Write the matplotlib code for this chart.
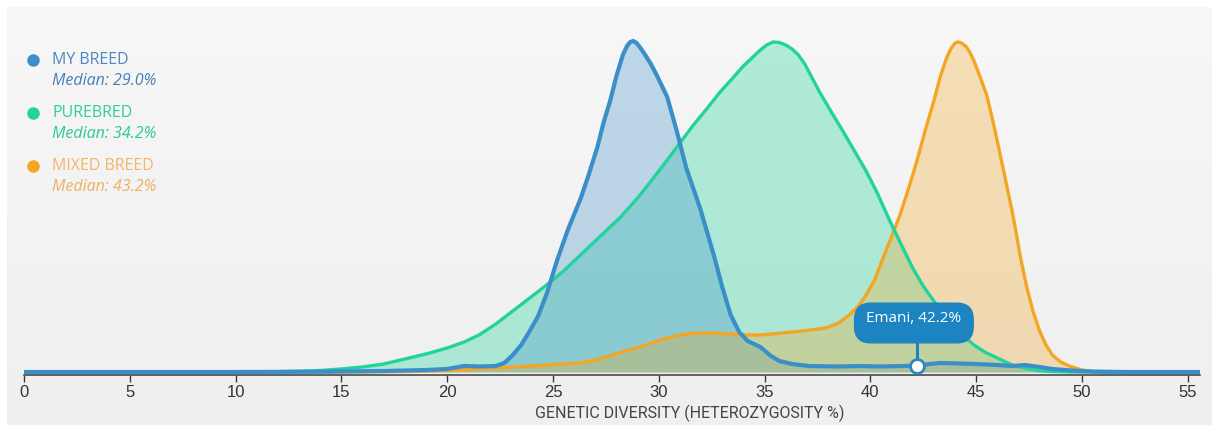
import numpy as np
import matplotlib
matplotlib.use("Agg")
import matplotlib.pyplot as plt
from matplotlib import transforms
from matplotlib.patches import FancyBboxPatch
from matplotlib.lines import Line2D
from matplotlib.colors import LinearSegmentedColormap

# ---------------- data (relative density, arbitrary units) ----------------
my_breed_x = [0, 5, 10, 14, 17, 19, 20, 20.8, 21.5, 22.3, 22.7, 23.1, 23.5, 23.9, 24.3, 24.7,
              25.2, 25.7, 26.3, 26.7, 27.1, 27.4, 27.7, 28.0, 28.3, 28.5, 28.65, 28.8, 28.95,
              29.1, 29.3, 29.6, 29.9, 30.4, 30.85, 31.3, 31.95, 32.6, 33.0, 33.4, 33.8, 34.2,
              34.8, 35.3, 35.7, 36.3, 37.1, 38.5, 39.5, 40.5, 41.5, 42.2, 42.8, 43.3, 44.2,
              45.0, 46.0, 46.7, 47.3, 48.0, 48.6, 49.5, 50.5, 52, 55.6]
my_breed_y = [0, 0, 0, 0.3, 1, 2, 3, 6, 5.5, 6, 9, 17, 27, 41, 56, 78,
              112, 142, 173, 198, 225, 250, 271, 296, 317, 326, 330, 331, 329,
              325, 319, 309, 297, 275, 241, 204, 164, 117, 85, 57, 40, 31,
              25, 16, 11, 8, 6, 5.5, 6, 5.5, 6, 6.5, 8, 9, 8.5,
              8, 7, 6, 7, 5, 3, 1.5, 0.5, 0, 0]

purebred_x = [0, 10, 12, 13, 14, 15, 16, 17, 18, 19, 20, 20.8, 21.5, 22.3, 23.1, 23.9, 24.7,
              25.5, 26.3, 27.2, 28.2, 29.0, 29.75, 30.4, 31.0, 31.6, 32.3, 32.9, 33.5, 34.0,
              34.5, 34.8, 35.1, 35.4, 35.7, 36.0, 36.3, 36.6, 36.9, 37.2, 37.6, 38.1, 38.7,
              39.25, 39.8, 40.35, 40.9, 41.4, 42.0, 42.5, 43.0, 43.5, 43.9, 44.4, 44.9, 45.4,
              45.8, 46.3, 46.7, 47.3, 47.9, 48.5, 49.5, 55.6]
purebred_y = [0, 0, 0.3, 0.8, 1.5, 3, 5, 8, 13, 18, 24, 30, 37, 48, 61, 74, 87,
              101, 117, 135, 155, 174, 194, 212, 229, 246, 264, 280, 294, 306,
              316, 322, 327, 330, 329.5, 327, 323, 317, 308, 296, 280, 262, 241,
              221, 201, 178, 152, 130, 104, 86, 71, 57, 47, 36, 27, 20,
              16, 11, 7, 4, 1.5, 0.5, 0, 0]

mixed_x = [0, 15, 18, 20, 21, 22.3, 24, 25.5, 26.3, 27, 27.8, 28.6, 29.4, 30.2, 31.0, 31.8,
           32.6, 33.4, 34.15, 34.8, 35.8, 36.8, 37.9, 38.5, 39.0, 39.4, 39.8, 40.2, 40.6,
           41.0, 41.4, 41.8, 42.2, 42.6, 43.0, 43.3, 43.6, 43.8, 44.0, 44.15, 44.3, 44.5,
           44.7, 44.9, 45.1, 45.5, 45.8, 46.1, 46.4, 46.7, 46.9, 47.1, 47.4, 47.7, 48.0,
           48.3, 48.6, 49.0, 49.4, 50.0, 50.5, 51, 55.6]
mixed_y = [0, 0, 0.5, 1.5, 2.5, 4, 6, 8, 9, 12, 17, 22, 27, 33, 37, 39,
           39, 38, 37, 37, 39, 41, 44, 49, 57, 65, 77, 92, 114,
           135, 157, 183, 211, 242, 271, 295, 314, 323, 329, 330, 329, 326,
           320, 311, 300, 277, 250, 221, 191, 161, 138, 114, 84, 60, 41,
           27, 17, 10, 6, 2, 0.5, 0, 0]

series_labels = ["MY BREED", "PUREBRED", "MIXED BREED"]
series_medians = [29.0, 34.2, 43.2]
x_ticks = [0, 5, 10, 15, 20, 25, 30, 35, 40, 45, 50, 55]
x_label = "GENETIC DIVERSITY (HETEROZYGOSITY %)"
dog_name = "Emani"
dog_value = 42.2
dog_density = 6.5

# ---------------- style ----------------
BLUE = "#3a8fc8"
GREEN = "#22d39b"
ORANGE = "#f3a623"
TIP = "#1b84c1"

W, H = 1212, 429
fig = plt.figure(figsize=(W / 100, H / 100), dpi=100, facecolor="white")

# background panel with subtle gradient
bg = fig.add_axes([7 / W, 4 / H, (W - 7) / W, 418 / H])
cmap = LinearSegmentedColormap.from_list("bg", ["#efefef", "#f7f7f7"])
bg.imshow(np.linspace(0, 1, 256).reshape(-1, 1), aspect="auto", cmap=cmap,
          origin="lower", extent=[0, 1, 0, 1])
bg.set_axis_off()

ax = fig.add_axes([24 / W, (H - 375) / H, 1176 / W, 364 / H])
ax.set_facecolor("none")

ax.fill_between(purebred_x, purebred_y, 0, color=GREEN, alpha=0.33, lw=0, zorder=1)
ax.fill_between(my_breed_x, my_breed_y, 0, color=BLUE, alpha=0.30, lw=0, zorder=2)
ax.fill_between(mixed_x, mixed_y, 0, color=ORANGE, alpha=0.30, lw=0, zorder=3)
ax.plot(mixed_x, mixed_y, color=ORANGE, lw=2.4, zorder=4, solid_capstyle="round",
        solid_joinstyle="round")
ax.plot(purebred_x, purebred_y, color=GREEN, lw=2.4, zorder=5, solid_capstyle="round",
        solid_joinstyle="round")
ax.plot(my_breed_x, my_breed_y, color=BLUE, lw=3.0, zorder=6, solid_capstyle="round",
        solid_joinstyle="round")

# tooltip anchored at the dog's position (offsets in pixels)
tr = transforms.Affine2D() + transforms.ScaledTranslation(dog_value, dog_density, ax.transData)
ax.add_line(Line2D([0, 0], [0, 22], transform=tr, color=TIP, lw=2.2, zorder=10))
ax.add_patch(FancyBboxPatch((-63, 22), 120, 41, boxstyle="round,pad=0,rounding_size=17",
                            transform=tr, fc=TIP, ec="none", zorder=11))
ax.text(-3, 47, f"{dog_name}, {dog_value}%", transform=tr, ha="center", va="center",
        color="white", fontsize=11, family=["Open Sans", "DejaVu Sans"], zorder=12)
ax.plot([dog_value], [dog_density], "o", ms=10, mfc="white", mec="#2a88c4", mew=2, zorder=13)

ax.set_xlim(0, 55.58)
ax.set_ylim(-3, 361)
for s in ["top", "right", "left"]:
    ax.spines[s].set_visible(False)
ax.spines["bottom"].set_color("#3a3a3a")
ax.spines["bottom"].set_linewidth(1.1)
ax.set_yticks([])
ax.set_xticks(x_ticks)
ax.set_xticklabels([str(t) for t in x_ticks], family=["Liberation Sans", "DejaVu Sans"],
                   fontsize=12)
ax.tick_params(axis="x", length=5, width=1, color="#3a3a3a", labelcolor="#333333", pad=2)
ax.set_xlabel(x_label, family=["Roboto", "DejaVu Sans"], fontsize=11.5, color="#444444")
ax.xaxis.set_label_coords((690 - 24) / 1176, -38 / 364)
ax.xaxis.label.set_va("center")

# legend (figure pixel positions)
legend_colors = [BLUE, GREEN, ORANGE]
label_colors = ["#4f86bd", "#2ccf98", "#f2b56a"]
median_colors = ["#4a7fb5", "#2bc994", "#efb062"]
for i, (lab, med) in enumerate(zip(series_labels, series_medians)):
    yc = 60 + 53 * i
    fig.add_artist(Line2D([33 / W], [1 - yc / H], transform=fig.transFigure, marker="o",
                          ms=9, color=legend_colors[i], mec="none"))
    fig.text(52 / W, 1 - yc / H, lab, ha="left", va="center", fontsize=11.5,
             color=label_colors[i], family=["Open Sans", "DejaVu Sans"])
    fig.text(52 / W, 1 - (yc + 21) / H, f"Median: {med:.1f}%", ha="left", va="center",
             fontsize=11.5, style="italic", color=median_colors[i],
             family=["Open Sans", "DejaVu Sans"])

fig.savefig("out.png", dpi=100, facecolor=fig.get_facecolor())
